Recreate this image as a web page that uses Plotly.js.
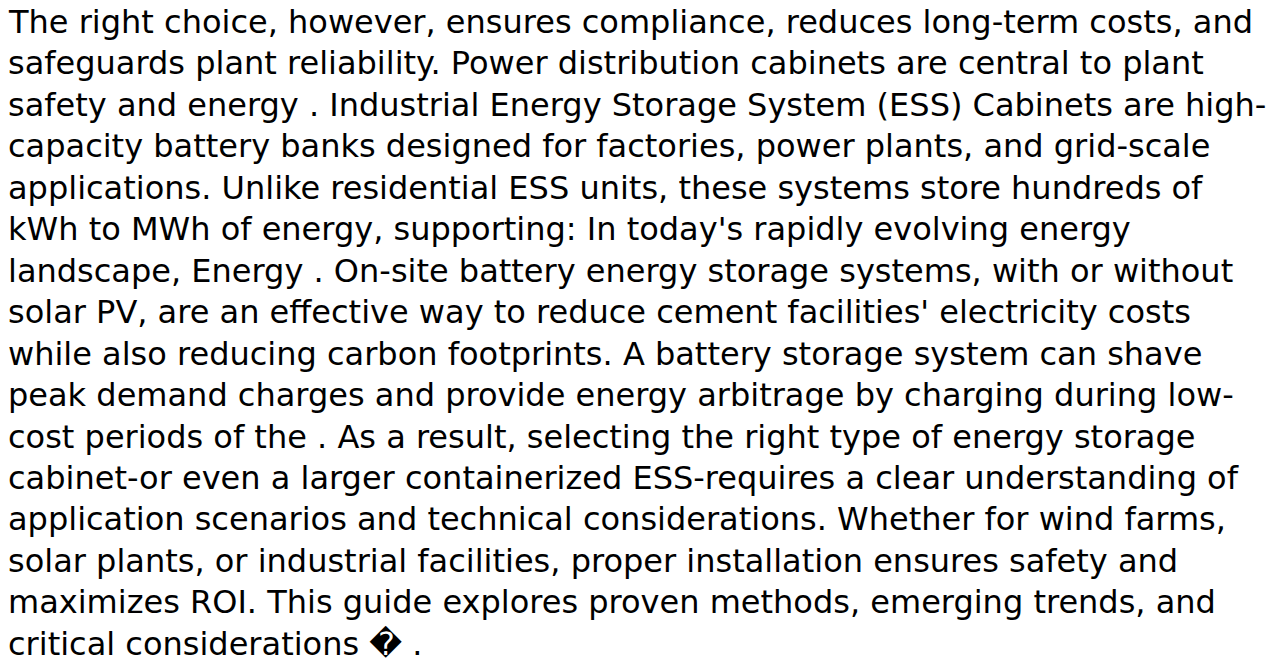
<!DOCTYPE html>
<html>
<head>
<meta charset="utf-8">
<script src="https://cdn.plot.ly/plotly-3.0.1.min.js"></script>
<style>
html,body{margin:0;padding:0;background:#fff;}
#chart{width:1284px;height:661px;}
</style>
</head>
<body>
<div id="chart"></div>
<script>
const textLines = [
  "The right choice, however, ensures compliance, reduces long-term costs, and",
  "safeguards plant reliability. Power distribution cabinets are central to plant",
  "safety and energy . Industrial Energy Storage System (ESS) Cabinets are high-",
  "capacity battery banks designed for factories, power plants, and grid-scale",
  "applications. Unlike residential ESS units, these systems store hundreds of",
  "kWh to MWh of energy, supporting: In today's rapidly evolving energy",
  "landscape, Energy . On-site battery energy storage systems, with or without",
  "solar PV, are an effective way to reduce cement facilities' electricity costs",
  "while also reducing carbon footprints. A battery storage system can shave",
  "peak demand charges and provide energy arbitrage by charging during low-",
  "cost periods of the . As a result, selecting the right type of energy storage",
  "cabinet-or even a larger containerized ESS-requires a clear understanding of",
  "application scenarios and technical considerations. Whether for wind farms,",
  "solar plants, or industrial facilities, proper installation ensures safety and",
  "maximizes ROI. This guide explores proven methods, emerging trends, and",
  "critical considerations \uFFFD ."
];
const lineIndex = textLines.map((_, i) => i);

const spacing = 41.45;
const c0 = 22;
const H = 661;
const yTop = -c0 / spacing;
const yBot = (H - c0) / spacing;

const annotations = textLines.map((t, i) => ({
  x: 0, y: lineIndex[i], xref: 'x', yref: 'y',
  xanchor: 'left', yanchor: 'middle',
  text: t, showarrow: false,
  font: {family: 'DejaVu Sans', size: 32, color: '#000'},
  align: 'left'
}));

Plotly.newPlot('chart', [], {
  width: 1284, height: 661,
  margin: {l: 6, r: 0, t: 0, b: 0, pad: 0},
  paper_bgcolor: '#fff', plot_bgcolor: '#fff',
  xaxis: {range: [0, 1], visible: false, fixedrange: true},
  yaxis: {range: [yBot, yTop], visible: false, fixedrange: true},
  annotations: annotations,
  showlegend: false
}, {displayModeBar: false, staticPlot: true});
</script>
</body>
</html>
